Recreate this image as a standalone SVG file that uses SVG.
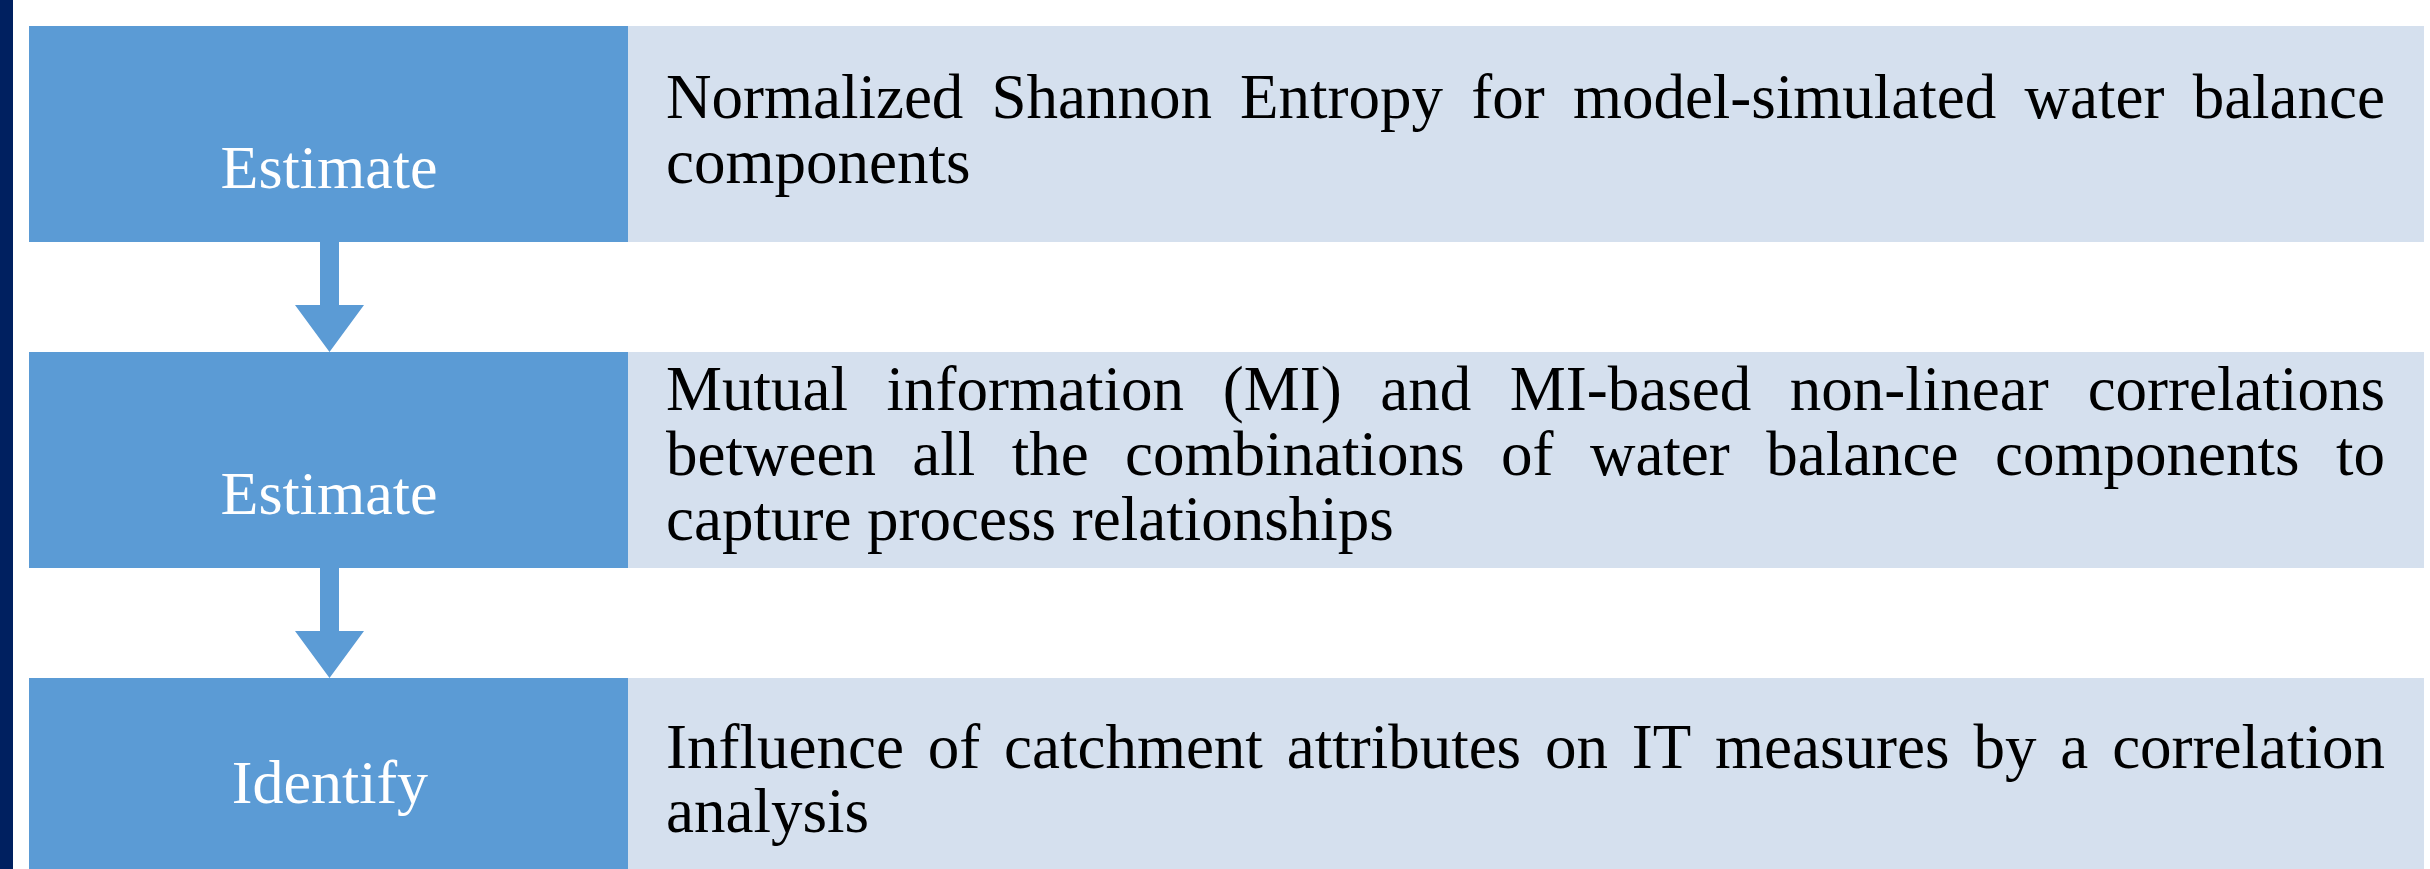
<svg xmlns="http://www.w3.org/2000/svg" width="2430" height="869" viewBox="0 0 2430 869">
<style>
.lab{fill:#5B9BD5}
.desc{fill:#D5E0EE}
.lt{font-family:"Liberation Serif","Times New Roman",serif;font-size:62px;fill:#FFFFFF;text-anchor:middle}
.dt{font-family:"Liberation Serif","Times New Roman",serif;font-size:63px;fill:#000000}
.arr{fill:#5B9BD5}
</style>
<rect x="0" y="0" width="2430" height="869" fill="#FFFFFF"/>
<rect x="0" y="0" width="13" height="869" fill="#002060"/>
<g id="connectors">
<path class="arr" d="M320,242 H339 V305 H364 L329.5,352 L295,305 H320 Z"/>
<path class="arr" d="M320,568 H339 V631 H364 L329.5,678 L295,631 H320 Z"/>
</g>
<g id="step1">
<rect class="lab" x="29" y="26" width="599" height="216"/>
<rect class="desc" x="628" y="26" width="1796" height="216"/>
<text class="lt" x="329" y="188">Estimate</text>
<text class="dt" y="118"><tspan x="666">Normalized</tspan><tspan x="991.5">Shannon</tspan><tspan x="1240.1">Entropy</tspan><tspan x="1471.3">for</tspan><tspan x="1572.9">model-simulated</tspan><tspan x="2024.5">water</tspan></text>
<text class="dt" x="2385" y="118" text-anchor="end">balance</text>
<text class="dt" x="666" y="183">components</text>
</g>
<g id="step2">
<rect class="lab" x="29" y="352" width="599" height="216"/>
<rect class="desc" x="628" y="352" width="1796" height="216"/>
<text class="lt" x="329" y="514">Estimate</text>
<text class="dt" y="410"><tspan x="666">Mutual</tspan><tspan x="886.6">information</tspan><tspan x="1222.7">(MI)</tspan><tspan x="1380.2">and</tspan><tspan x="1509.8">MI-based</tspan><tspan x="1789.8">non-linear</tspan></text>
<text class="dt" x="2385" y="410" text-anchor="end">correlations</text>
<text class="dt" y="475"><tspan x="666">between</tspan><tspan x="912.3">all</tspan><tspan x="1011.7">the</tspan><tspan x="1125.1">combinations</tspan><tspan x="1501">of</tspan><tspan x="1589.9">water</tspan><tspan x="1766.2">balance</tspan><tspan x="1995">components</tspan></text>
<text class="dt" x="2385" y="475" text-anchor="end">to</text>
<text class="dt" x="666" y="540">capture process relationships</text>
</g>
<g id="step3">
<rect class="lab" x="29" y="678" width="599" height="216"/>
<rect class="desc" x="628" y="678" width="1796" height="216"/>
<text class="lt" x="330" y="803">Identify</text>
<text class="dt" y="768"><tspan x="666">Influence</tspan><tspan x="927.7">of</tspan><tspan x="1004">catchment</tspan><tspan x="1286.7">attributes</tspan><tspan x="1545">on</tspan><tspan x="1631.8">IT</tspan><tspan x="1715.1">measures</tspan><tspan x="1973.4">by</tspan><tspan x="2060.2">a</tspan></text>
<text class="dt" x="2385" y="768" text-anchor="end">correlation</text>
<text class="dt" x="666" y="832">analysis</text>
</g>
</svg>
